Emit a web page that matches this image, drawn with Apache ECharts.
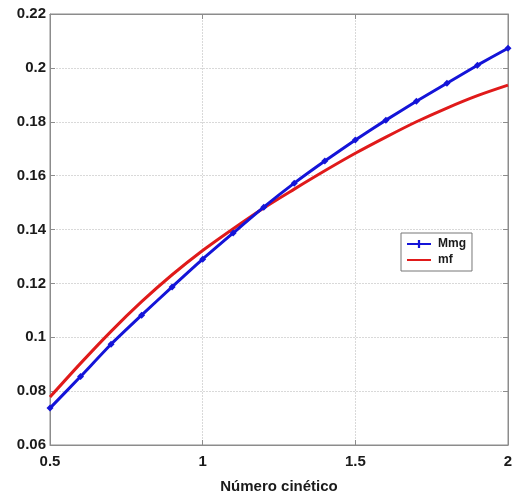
<!DOCTYPE html>
<html>
<head>
<meta charset="utf-8">
<script src="https://cdn.jsdelivr.net/npm/echarts@6/dist/echarts.min.js"></script>
<style>
  html, body { margin: 0; padding: 0; background: #fff; }
  #chart { width: 517px; height: 499px; }
</style>
</head>
<body>
<div id="chart"></div>
<script>
// Kinetic number sampled every 0.1
const kineticNumber = [0.5, 0.6, 0.7, 0.8, 0.9, 1.0, 1.1, 1.2, 1.3, 1.4, 1.5, 1.6, 1.7, 1.8, 1.9, 2.0];
// Mmg curve (with markers)
const mmgValues = [0.0737, 0.0854, 0.0974, 0.1082, 0.1187, 0.1290, 0.1387, 0.1483, 0.1572, 0.1654, 0.1732, 0.1806, 0.1876, 0.1943, 0.2010, 0.2073];
// mf curve
const mfValues = [0.0778, 0.0903, 0.1022, 0.1132, 0.1232, 0.1322, 0.1403, 0.1480, 0.1550, 0.1618, 0.1683, 0.1743, 0.1800, 0.1851, 0.1897, 0.1936];
const xTicks = { min: 0.5, max: 2, step: 0.5 };
const yTicks = { min: 0.06, max: 0.22, step: 0.02 };
const xTitle = 'Número cinético';

const font = '"Liberation Sans", Arial, sans-serif';
const frame = '#8c8c8c';

const chart = echarts.init(document.getElementById('chart'), null, { renderer: 'canvas' });

const pair = (xs, ys) => xs.map((x, i) => [x, ys[i]]);

const labelStyle = { color: '#1a1a1a', fontFamily: font, fontWeight: 'bold', fontSize: 15 };
const gridLine = { show: true, lineStyle: { color: '#d9d9d9', type: [2, 1], width: 1 } };

chart.setOption({
  animation: false,
  backgroundColor: '#fff',
  grid: { left: 50, right: 9, top: 14, bottom: 54, show: true, borderColor: frame, borderWidth: 1 },
  legend: {
    orient: 'vertical',
    left: 401,
    top: 233,
    padding: [5, 6, 5, 6],
    itemGap: 4,
    itemWidth: 24,
    itemHeight: 9,
    borderColor: '#777',
    borderWidth: 1,
    backgroundColor: '#fff',
    textStyle: { color: '#1a1a1a', fontFamily: font, fontWeight: 'bold', fontSize: 12, padding: [0, 0, 0, 2] },
    data: [
      { name: 'Mmg', icon: 'path://M0,3.8 L30,3.8 L30,6.2 L0,6.2 Z M13.6,0 L16.4,0 L16.4,10 L13.6,10 Z' },
      { name: 'mf', icon: 'path://M0,3.8 L30,3.8 L30,6.2 L0,6.2 Z M0,0 L0.01,0 L0.01,10 L0,10 Z' }
    ]
  },
  xAxis: [{
    type: 'value',
    min: xTicks.min, max: xTicks.max, interval: xTicks.step,
    name: xTitle,
    nameLocation: 'middle',
    nameGap: 34,
    nameTextStyle: { color: '#1a1a1a', fontFamily: font, fontWeight: 'bold', fontSize: 15 },
    axisLine: { show: true, onZero: false, lineStyle: { color: frame, width: 1 } },
    axisTick: { show: true, inside: true, length: 5, lineStyle: { color: frame } },
    axisLabel: Object.assign({ margin: 9 }, labelStyle),
    splitLine: gridLine
  }, {
    type: 'value', position: 'top',
    min: xTicks.min, max: xTicks.max, interval: xTicks.step,
    axisLine: { show: true, onZero: false, lineStyle: { color: frame } },
    axisTick: { show: true, inside: true, length: 5, lineStyle: { color: frame } },
    axisLabel: { show: false },
    splitLine: { show: false }
  }],
  yAxis: [{
    type: 'value',
    min: yTicks.min, max: yTicks.max, interval: yTicks.step,
    axisLine: { show: true, onZero: false, lineStyle: { color: frame, width: 1 } },
    axisTick: { show: true, inside: true, length: 5, lineStyle: { color: frame } },
    axisLabel: Object.assign({ margin: 4 }, labelStyle),
    splitLine: gridLine
  }, {
    type: 'value', position: 'right',
    min: yTicks.min, max: yTicks.max, interval: yTicks.step,
    axisLine: { show: true, onZero: false, lineStyle: { color: frame } },
    axisTick: { show: true, inside: true, length: 5, lineStyle: { color: frame } },
    axisLabel: { show: false },
    splitLine: { show: false }
  }],
  series: [{
    name: 'Mmg',
    type: 'line',
    data: pair(kineticNumber, mmgValues),
    smooth: 0.2,
    symbol: 'diamond',
    symbolSize: 7,
    showAllSymbol: true,
    lineStyle: { color: '#1414d8', width: 3 },
    itemStyle: { color: '#1414d8' },
    z: 3
  }, {
    name: 'mf',
    type: 'line',
    data: pair(kineticNumber, mfValues),
    smooth: 0.3,
    symbol: 'none',
    lineStyle: { color: '#e01a1a', width: 3 },
    itemStyle: { color: '#e01a1a' },
    z: 2
  }]
});
</script>
</body>
</html>
